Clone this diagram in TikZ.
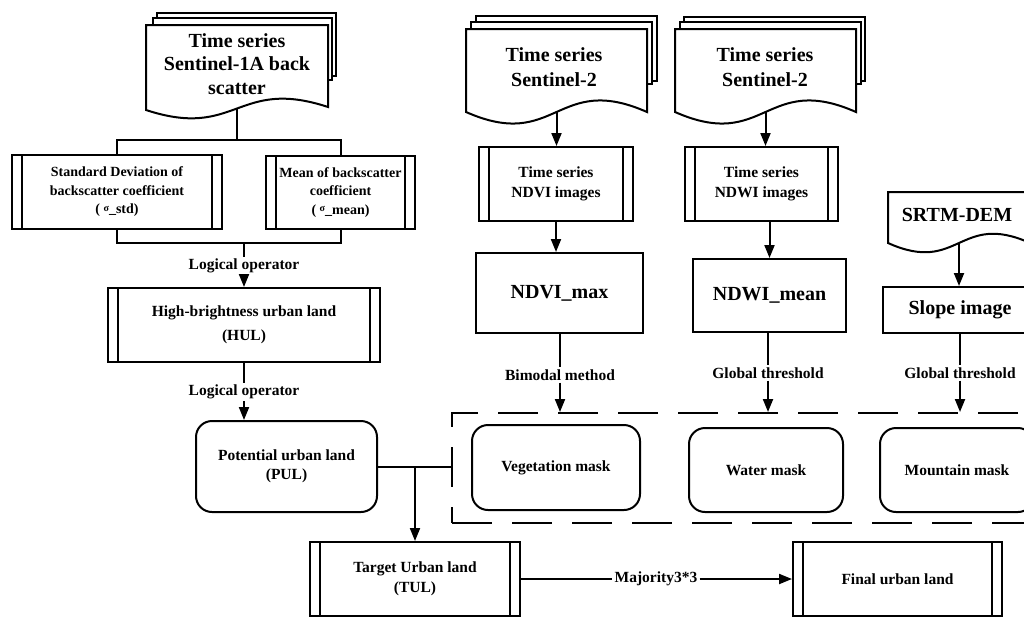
\documentclass[tikz,border=0pt]{standalone}
\usepackage{fontspec}
\setmainfont{Liberation Serif}
\usetikzlibrary{arrows.meta}
\newcommand\sigmasym{\raisebox{2.5pt}{\fontsize{10}{10}\selectfont σ}}
\newcommand\docshape[6]{\draw[docst] (#1,#3) -- (#2,#3) -- (#2,#5) .. controls ({(#1+#2)/2},{#5-#6}) and ({(#1+#2)/2},{#4+#6}) .. (#1,#4) -- cycle;}
\tikzset{
 ln/.style={line width=2pt},
 arr/.style={ln,-{Triangle[length=13pt,width=10pt]}},
 docst/.style={ln,fill=white,line join=miter},
 procbox/.style={ln,draw,fill=white,rectangle,align=center,inner sep=0pt,
   path picture={
     \draw[ln] ([xshift=10pt]path picture bounding box.north west) -- ([xshift=10pt]path picture bounding box.south west);
     \draw[ln] ([xshift=-10pt]path picture bounding box.north east) -- ([xshift=-10pt]path picture bounding box.south east);}},
 plainbox/.style={ln,draw,fill=white,rectangle,align=center,inner sep=0pt},
 roundbox/.style={ln,draw,fill=white,rounded corners=16pt,align=center,inner sep=0pt},
 lbl/.style={inner sep=2pt,font=\bfseries\fontsize{15.5}{18}\selectfont},
 txtA/.style={align=center,font=\bfseries\fontsize{20}{24}\selectfont},
 txtB/.style={align=center,font=\bfseries\fontsize{15.5}{20}\selectfont},
 txtC/.style={align=center,font=\bfseries\fontsize{14}{18.5}\selectfont},
}
\begin{document}
\begin{tikzpicture}[x=1pt,y=-1pt]
\useasboundingbox (0,0) rectangle (1024,621);
\fill[white] (0,0) rectangle (1024,621);
\clip (0,0) rectangle (1024,621);

% dashed mask region
\node[ln,draw,dash pattern=on 40pt off 20pt,minimum width=588pt,minimum height=110pt,inner sep=0pt] (mask) at (746,468) {};

% document shapes
\draw[docst] (157,13) rectangle (336,76);
\draw[docst] (153,18) rectangle (332,80);
\docshape{146}{328}{25}{110}{107}{30}
\node[txtA,font=\bfseries\fontsize{20}{23.5}\selectfont] (s1t) at (237,64) {Time series\\Sentinel-1A back\\scatter};
\coordinate (s1b) at (237,108.5);

\draw[docst] (476,16) rectangle (657,81);
\draw[docst] (471,22) rectangle (652,84);
\docshape{466}{647}{29}{112}{112}{40}
\node[txtA,font=\bfseries\fontsize{20}{25}\selectfont] (s2at) at (554,67) {Time series\\Sentinel-2};
\coordinate (s2ab) at (556.5,112);

\draw[docst] (684,17) rectangle (865,81);
\draw[docst] (680,22) rectangle (861,84);
\docshape{675}{856}{29}{112}{112}{40}
\node[txtA,font=\bfseries\fontsize{20}{25}\selectfont] (s2bt) at (765,67) {Time series\\Sentinel-2};
\coordinate (s2bb) at (765.5,112);

\docshape{888}{1030}{192}{243}{243}{32}
\node[txtA] (srtmt) at (957,215) {SRTM-DEM};
\coordinate (srtmb) at (959,243);

% boxes
\node[procbox,txtC,minimum width=210pt,minimum height=74pt] (std) at (117,192) {Standard Deviation of\\backscatter coefficient\\( \sigmasym \_std)};
\node[procbox,txtC,minimum width=149pt,minimum height=73pt] (mean) at (340.5,192.5) {Mean of backscatter\\coefficient\\( \sigmasym \_mean)};
\node[procbox,txtB,font=\bfseries\fontsize{15.5}{24}\selectfont,minimum width=272pt,minimum height=74pt] (hul) at (244,325) {High-brightness urban land\\(HUL)};
\node[procbox,txtB,minimum width=154pt,minimum height=74pt] (ndvi) at (556,184) {Time series\\NDVI images};
\node[procbox,txtB,minimum width=153pt,minimum height=74pt] (ndwi) at (761.5,184) {Time series\\NDWI images};
\node[procbox,txtB,minimum width=210pt,minimum height=74pt] (tul) at (415,579) {Target Urban land\\(TUL)};
\node[procbox,txtB,minimum width=209pt,minimum height=74pt] (final) at (897.5,579) {Final urban land};

\node[plainbox,txtA,minimum width=167pt,minimum height=80pt] (ndvimax) at (559.5,293) {NDVI\_max};
\node[plainbox,txtA,minimum width=153pt,minimum height=73pt] (ndwimean) at (769.5,295.5) {NDWI\_mean};
\node[plainbox,txtA,minimum width=154pt,minimum height=46pt] (slope) at (960,310) {Slope image};

\node[roundbox,txtB,font=\bfseries\fontsize{15.5}{19}\selectfont,minimum width=181pt,minimum height=91pt] (pul) at (286.5,466.5) {Potential urban land\\(PUL)};
\node[roundbox,txtB,minimum width=168pt,minimum height=85pt] (veg) at (556,467.5) {Vegetation mask};
\node[roundbox,txtB,minimum width=154pt,minimum height=84pt] (water) at (766,470) {Water mask};
\node[roundbox,txtB,minimum width=154pt,minimum height=84pt] (mount) at (957,470) {Mountain mask};

% labels
\node[lbl] (lo1) at (244,266) {Logical operator};
\node[lbl] (lo2) at (244,392) {Logical operator};
\node[lbl] (bm) at (560,375) {Bimodal method};
\node[lbl] (gt1) at (768,373) {Global threshold};
\node[lbl] (gt2) at (960,373) {Global threshold};
\node[lbl] (maj) at (656,579) {Majority3*3};

% connectors
\coordinate (j1) at (237,140);
\draw[ln] (s1b) -- (j1);
\draw[ln] (j1) -| (std.north);
\draw[ln] (j1) -| (mean.north);
\draw[ln] (std.south) -- ++(0,13) -| (mean.south);
\coordinate (j2) at (244,242);
\draw[ln] (j2) -- (lo1.north);
\draw[arr] (lo1.south) -- (hul.north);
\draw[ln] (hul.south) -- (lo2.north);
\draw[arr] (lo2.south) -- (lo2.south |- pul.north);
\draw[ln] (pul.east) -- (pul.east -| mask.west);
\draw[arr] (pul.east -| tul.north) -- (tul.north);

\draw[arr] (s2ab) -- (s2ab |- ndvi.north);
\draw[arr] (ndvi.south) -- (ndvi.south |- ndvimax.north);
\draw[ln] (bm.north |- ndvimax.south) -- (bm.north);
\draw[arr] (bm.south) -- (bm.south |- mask.north);

\draw[arr] (s2bb) -- (s2bb |- ndwi.north);
\draw[arr] (ndwimean.north |- ndwi.south) -- (ndwimean.north);
\draw[ln] (gt1.north |- ndwimean.south) -- (gt1.north);
\draw[arr] (gt1.south) -- (gt1.south |- mask.north);

\draw[arr] (srtmb) -- (srtmb |- slope.north);
\draw[ln] (gt2.north |- slope.south) -- (gt2.north);
\draw[arr] (gt2.south) -- (gt2.south |- mask.north);

\draw[ln] (tul.east) -- (maj.west);
\draw[arr] (maj.east) -- (final.west);
\end{tikzpicture}
\end{document}
